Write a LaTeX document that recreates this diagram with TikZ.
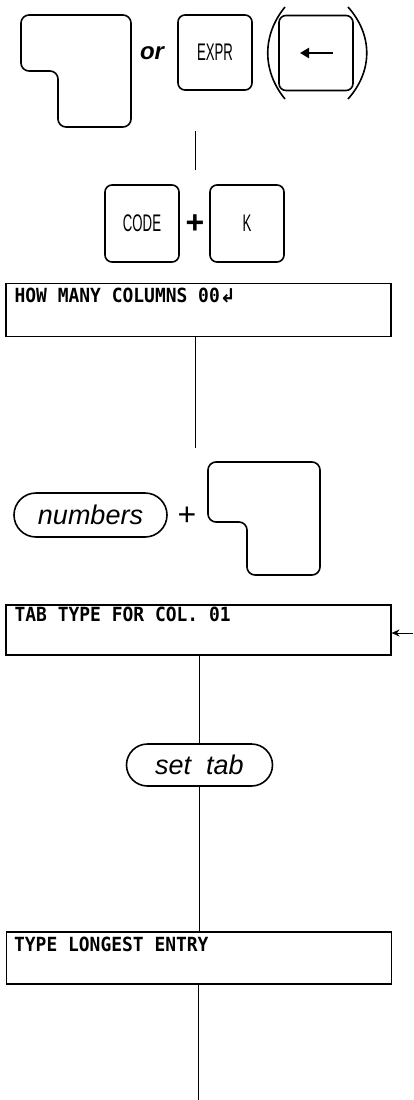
\documentclass[tikz,border=0pt]{standalone}
\usepackage{fontspec}
\setmainfont{Liberation Sans}
\newfontfamily\keyfont[FakeStretch=0.55]{Liberation Sans}
\newfontfamily\dispfont[FakeStretch=0.92]{DejaVu Sans Mono}
\newfontfamily\symfont{DejaVu Sans}
\usetikzlibrary{shapes.misc,arrows.meta}
\begin{document}
\begin{tikzpicture}[x=1pt,y=-1pt,
  keybox/.style={draw, line width=1.6pt, rounded corners=7pt, minimum width=74pt, minimum height=75pt, inner sep=0pt, font=\keyfont\fontsize{24}{24}\selectfont},
  keyshape/.style={draw, line width=1.6pt, rounded corners=8pt},
  disp/.style={draw, line width=1.1pt, minimum width=385pt, minimum height=53pt, inner sep=0pt},
  disptext/.style={anchor=base west, inner sep=0pt, font=\dispfont\bfseries\fontsize{19.5}{19.5}\selectfont},
  pill/.style={draw, rounded rectangle, line width=1.6pt, inner sep=0pt, font=\itshape\fontsize{27}{27}\selectfont},
  word/.style={inner sep=0pt, font=\bfseries\itshape\fontsize{24}{24}\selectfont},
  plus/.style={inner sep=0pt, font=\bfseries\fontsize{32}{32}\selectfont},
  conn/.style={line width=0.9pt},
  paren/.style={line width=1.6pt}]
\useasboundingbox (0,0) rectangle (413,1100);
% top row
\draw[keyshape] (21,15) -- (131,15) -- (131,127) -- (58,127) -- (58,71) -- (21,71) -- cycle;
\node[word] (or) at (152,53) {or};
\node[keybox] (expr) at (215,52.5) {EXPR};
\node[keybox] (bk) at (316,53) {};
\draw[line width=2.4pt,-{Triangle[length=9pt,width=10pt]}] ([xshift=17pt]bk.center) -- ([xshift=-16pt]bk.center);
\draw[paren] (285,7) .. controls (262,35) and (262,71) .. (285,99);
\draw[paren] (348,7) .. controls (373,35) and (373,71) .. (348,99);
\coordinate (la1) at (195,131);
\coordinate (la2) at (195,170);
\draw[conn] (la1) -- (la2);
% CODE + K
\node[keybox, minimum height=77pt] (code) at (142,223.5) {CODE};
\node[plus] (p1) at (195,224) {+};
\node[keybox, minimum height=77pt] (k) at (247,223.5) {K};
% display 1
\node[disp] (b1) at (198.5,310) {};
\node[disptext] (b1t) at ([xshift=9pt,yshift=-20pt]b1.north west) {HOW MANY COLUMNS 00{\symfont\fontsize{19}{19}\selectfont ↲}};
\coordinate (c1) at (195,448);
\draw[conn] (c1 |- b1.south) -- (c1);
% numbers + key
\node[pill, minimum width=153pt, minimum height=44pt] (num) at (90.5,515) {numbers};
\node[plus, font=\fontsize{32}{32}\selectfont] (p2) at (187,516) {+};
\draw[keyshape] (208,462) -- (320,462) -- (320,575) -- (247,575) -- (247,522) -- (208,522) -- cycle;
% display 2
\node[disp, minimum height=50pt] (b2) at (198.5,630) {};
\node[disptext] (b2t) at ([xshift=9pt,yshift=-17pt]b2.north west) {TAB TYPE FOR COL. 01};
\coordinate (ar) at (413,633);
\draw[conn,-{Stealth[length=8pt,width=7pt]}] (ar) -- (ar -| b2.east);
% set tab
\node[pill, minimum width=146pt, minimum height=42pt] (st) at (199.5,765) {set\ \ tab};
\draw[conn] (st.north) -- (st.north |- b2.south);
% display 3
\node[disp, minimum height=52pt] (b3) at (199,958) {};
\node[disptext] (b3t) at ([xshift=8pt,yshift=-20pt]b3.north west) {TYPE LONGEST ENTRY};
\draw[conn] (st.south) -- (st.south |- b3.north);
\coordinate (c3) at (198,1100);
\draw[conn] (c3 |- b3.south) -- (c3);
\end{tikzpicture}
\end{document}
